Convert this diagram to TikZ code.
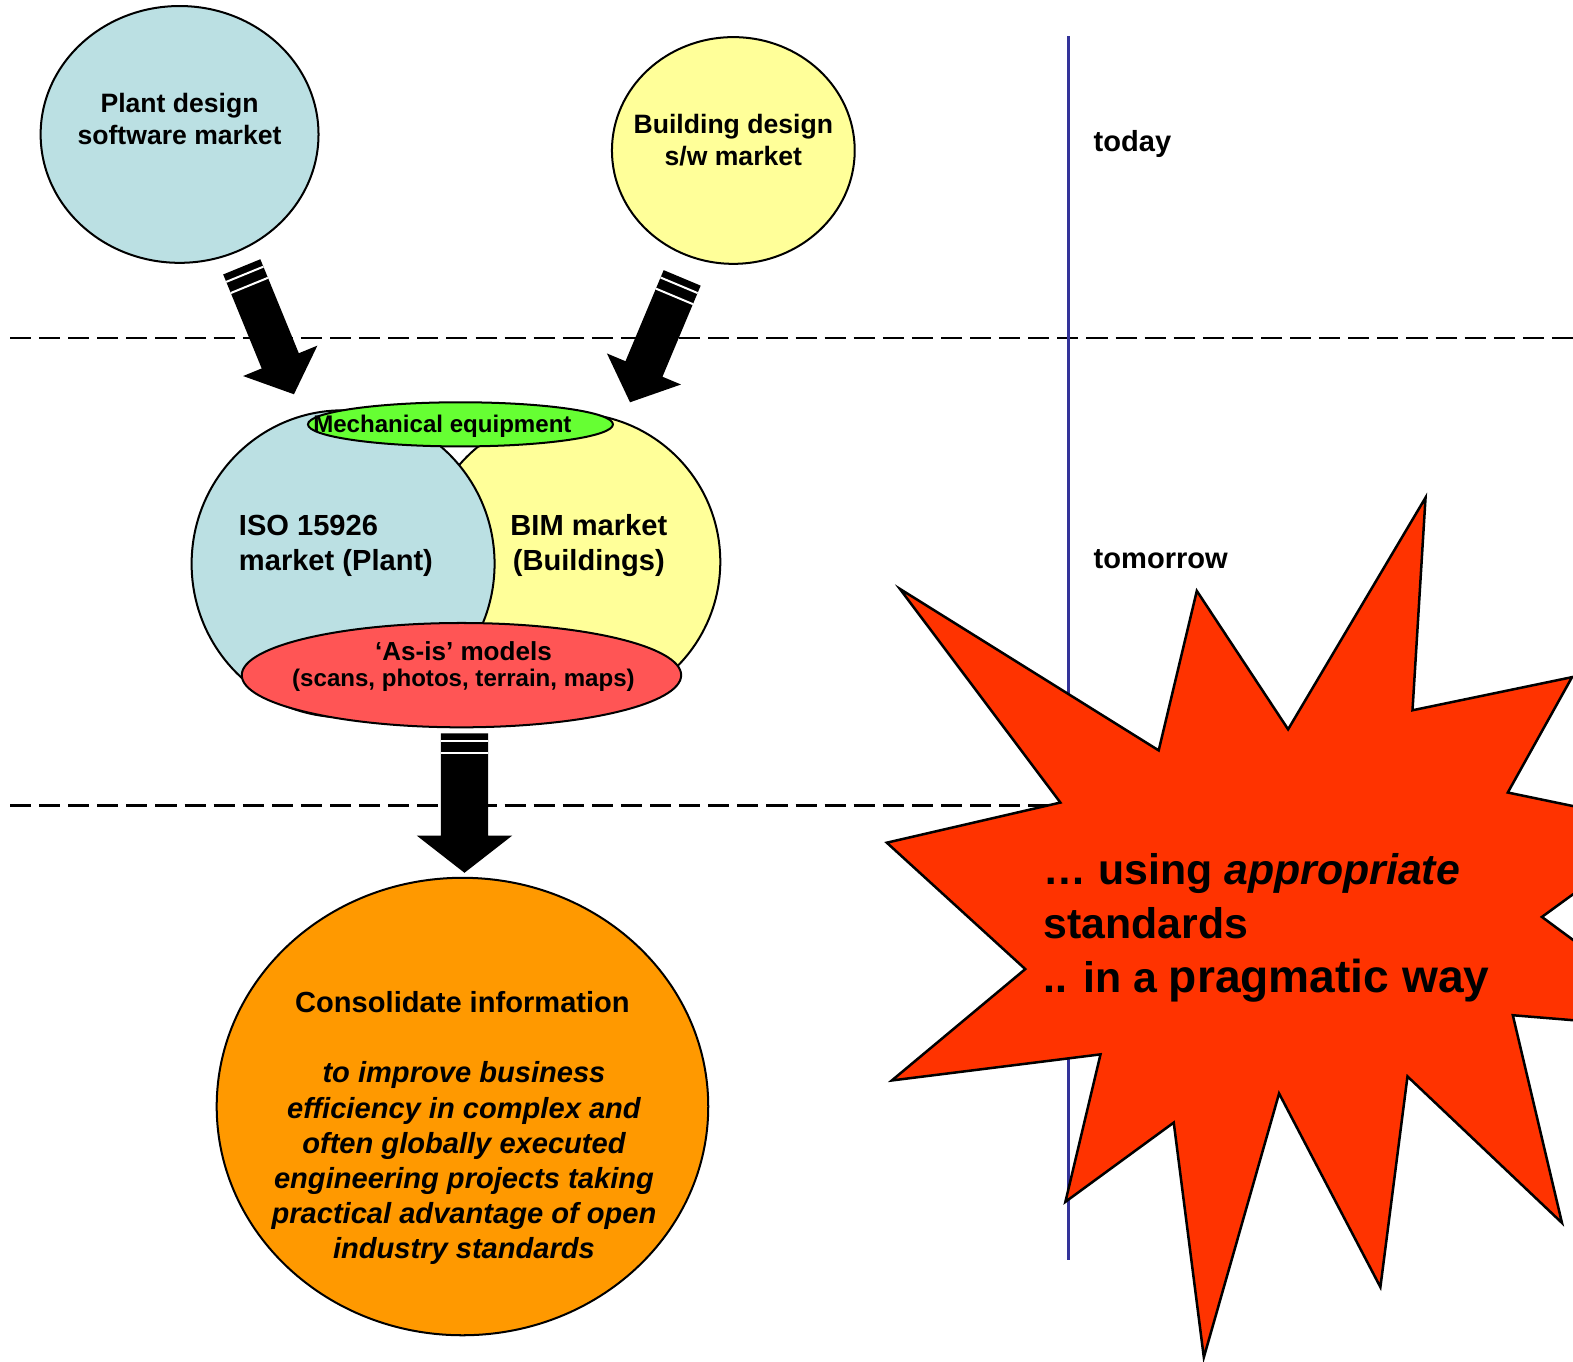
\documentclass[tikz,border=0pt]{standalone}
\usepackage{fontspec}
\setmainfont{Liberation Sans}
\usetikzlibrary{calc,shapes.geometric}

\definecolor{plantblue}{RGB}{187,224,227}
\definecolor{bldyellow}{RGB}{255,255,153}
\definecolor{mechgreen}{RGB}{102,255,51}
\definecolor{asisred}{RGB}{255,85,85}
\definecolor{consorange}{RGB}{255,153,0}
\definecolor{burstred}{RGB}{255,51,0}
\definecolor{timeline}{RGB}{51,51,153}

% Block arrow with two white bands near its tail:
% #1 tail, #2 tip, #3 shaft half width, #4 head half width, #5 head length
\newcommand\blockarrow[5]{%
  \fill[black] ($(#1)!#3!90:(#2)$)
    -- ($(#2)!#5!(#1)!#3!-90:(#1)$)
    -- ($(#2)!#5!(#1)!#4!-90:(#1)$)
    -- (#2)
    -- ($(#2)!#5!(#1)!#4!90:(#1)$)
    -- ($(#2)!#5!(#1)!#3!90:(#1)$)
    -- ($(#1)!#3!-90:(#2)$) -- cycle;
  \foreach \d in {8pt,20pt}
    \draw[white, line width=2pt]
      ($(#1)!\d!(#2)!#3!90:(#2)$) -- ($(#1)!\d!(#2)!#3!-90:(#2)$);
}

\begin{document}
\begin{tikzpicture}[x=1pt, y=-1pt,
  blob/.style={ellipse, draw=black, line width=2pt, inner sep=0pt},
  lbl/.style={font=\bfseries\fontsize{26.5}{32}\selectfont, align=center, inner sep=0pt},
  venntext/.style={font=\bfseries\fontsize{29}{35}\selectfont, inner sep=0pt},
  timetext/.style={font=\bfseries\fontsize{29}{35}\selectfont, anchor=west, inner sep=0pt},
  divider/.style={line width=2.5pt, dash pattern=on 21pt off 8pt}]

\useasboundingbox (0,0) rectangle (1568,1357);
\clip (0,0) rectangle (1568,1357);

% phase dividers and time line
\draw[divider] (10,337) -- (1568,337);
\draw[divider] (10,803) -- (1060,803);
\draw[timeline, line width=3pt] (1065,36) -- (1065,1256);

% today
\node[blob, fill=plantblue, minimum width=277, minimum height=256] (plant) at (179,134) {};
\node[lbl] (plantT) at (179,119) {Plant design\\software market};
\node[blob, fill=bldyellow, minimum width=242, minimum height=226] (bld) at (731,150) {};
\node[lbl] (bldT) at (731,140) {Building design\\s/w market};

% tomorrow: overlapping markets
\node[blob, fill=bldyellow, minimum width=296, minimum height=296] (bim) at (570,560) {};
\node[blob, fill=plantblue, minimum width=302, minimum height=306] (iso) at (342,562) {};
\node[blob, fill=mechgreen, minimum width=304, minimum height=44] (mech) at (459,423) {};
\node[blob, fill=asisred, minimum width=438, minimum height=104] (asis) at (460,673) {};

\node[venntext, align=left, anchor=west] (isoT) at (238,544) {ISO 15926\\market (Plant)};
\node[venntext, align=center] (bimT) at (587,544) {BIM market\\(Buildings)};
\node[inner sep=0pt, font=\bfseries\fontsize{24}{26}\selectfont] (mechT) at (441,425) {Mechanical equipment};
\node[inner sep=0pt, align=center, font=\bfseries\fontsize{24}{26}\selectfont] (asisT) at (462,664)
  {{\fontsize{26}{26}\selectfont ‘As-is’ models}\\
   (scans, photos, terrain, maps)};

% goal
\node[blob, fill=consorange, minimum width=490, minimum height=456] (cons) at (461,1103) {};
\node[inner sep=0pt, align=center, font=\bfseries\fontsize{29}{35}\selectfont] (consT) at (462.5,1124.5)
  {\hspace*{-3pt}Consolidate information\\[35pt]
   \itshape to improve business\\
   \itshape efficiency in complex and\\
   \itshape often globally executed\\
   \itshape engineering projects taking\\
   \itshape practical advantage of open\\
   \itshape industry standards};

% arrows between the stages
\coordinate (plantOut) at (241,266);
\coordinate (isoIn) at (293,393);
\coordinate (bldOut) at (680,277);
\coordinate (bimIn) at (628,401);
\coordinate (asisOut) at (463,731);
\coordinate (consIn) at (463,870);
\blockarrow{plantOut}{isoIn}{20pt}{40pt}{36pt}
\blockarrow{bldOut}{bimIn}{20pt}{40pt}{36pt}
\blockarrow{asisOut}{consIn}{23.5pt}{47.5pt}{37pt}

% time labels
\node[timetext] (today) at (1090,144) {today};
\node[timetext] (tomorrow) at (1090,557) {tomorrow};

% burst
\filldraw[fill=burstred, draw=black, line width=2.5pt, line join=miter]
  (897,587) -- (1155,748) -- (1193,589) -- (1284,727) -- (1421,496)
  -- (1408,708) -- (1567,675) -- (1503,790) -- (1662,823) -- (1537,914)
  -- (1690,1027) -- (1508,1012) -- (1557,1219) -- (1403,1073) -- (1376,1283)
  -- (1275,1090) -- (1200,1353) -- (1170,1119) -- (1062,1198) -- (1097,1051)
  -- (889,1077) -- (1022,966) -- (884,840) -- (1057,800) -- cycle;
\node[anchor=west, align=left, inner sep=0pt, font=\bfseries\fontsize{42.7}{54}\selectfont] (burstT) at (1040,925)
  {… using \textit{appropriate}\\
   standards\\
   .. in a {\fontsize{46}{54}\selectfont pragmatic way}};
\end{tikzpicture}
\end{document}
